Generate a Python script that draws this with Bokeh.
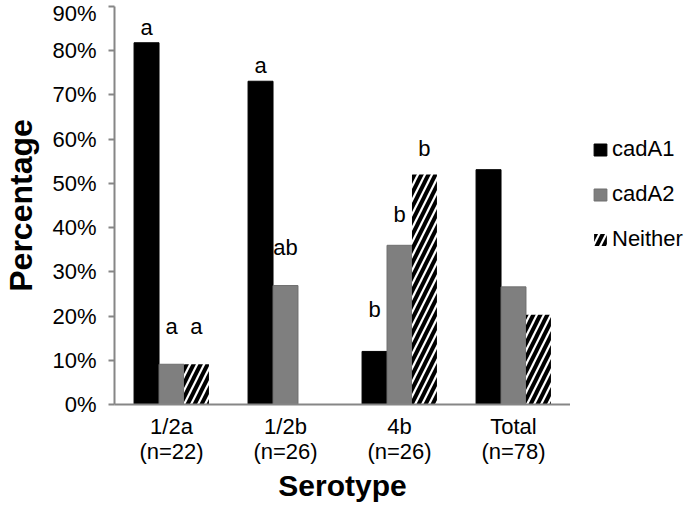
from bokeh.plotting import figure
from bokeh.layouts import row
from bokeh.models import ColumnDataSource, FactorRange, Range1d, Legend, LegendItem, PrintfTickFormatter, FixedTicker
from bokeh.transform import dodge
from bokeh.core.properties import value
from bokeh.embed import file_html
from bokeh.resources import INLINE

categories = ["1/2a\n(n=22)", "1/2b\n(n=26)", "4b\n(n=26)", "Total\n(n=78)"]
cadA1 = [81.8, 73.1, 12.0, 53.1]
cadA2 = [9.1, 26.9, 36.0, 26.6]
neither = [9.1, 0.0, 52.0, 20.3]
series_names = ["cadA1", "cadA2", "Neither"]

cadA1_letters = ["a", "a", "b", ""]
cadA2_letters = ["a", "ab", "b", ""]
neither_letters = ["a", "", "b", ""]
cadA1_letter_y = [85.2, 76.7, 21.5, 0]
cadA2_letter_y = [17.6, 35.5, 42.9, 0]
neither_letter_y = [17.6, 0, 57.8, 0]

y_ticks = [0, 10, 20, 30, 40, 50, 60, 70, 80, 90]

FONT = "Liberation Sans"
AXIS_GRAY = "#868686"
STYLES = [
    dict(fill_color="black", line_color="black"),
    dict(fill_color="#7f7f7f", line_color="#6f6f6f"),
    dict(fill_color="white", line_color=None, hatch_pattern="/", hatch_color="black",
         hatch_weight=4, hatch_scale=14),
]

src = ColumnDataSource(dict(
    cat=categories, cadA1=cadA1, cadA2=cadA2, neither=neither,
    l1=cadA1_letters, l2=cadA2_letters, l3=neither_letters,
    y1=cadA1_letter_y, y2=cadA2_letter_y, y3=neither_letter_y,
))

p = figure(width=570, height=504, x_range=FactorRange(*categories, range_padding=0),
           y_range=Range1d(0, 90), output_backend="svg", toolbar_location=None,
           min_border_left=113, min_border_right=0, min_border_top=6, min_border_bottom=100)

bw = 0.219
for off, col, st in [(-bw, "cadA1", STYLES[0]), (0, "cadA2", STYLES[1]), (bw, "neither", STYLES[2])]:
    p.vbar(x=dodge("cat", off, range=p.x_range), top=col, width=bw, source=src, **st)

for off, col, ycol in [(-bw, "l1", "y1"), (0, "l2", "y2"), (bw, "l3", "y3")]:
    p.text(x=dodge("cat", off, range=p.x_range), y=ycol, text=col, source=src,
           text_align="center", text_baseline="middle", text_font=value(FONT),
           text_font_size="22px", text_color="black")

p.xgrid.visible = False
p.ygrid.visible = False
p.outline_line_color = None

p.yaxis.ticker = FixedTicker(ticks=y_ticks)
p.yaxis.formatter = PrintfTickFormatter(format="%d%%")
p.yaxis.axis_label = "Percentage"
p.xaxis.axis_label = "Serotype"
for ax in (p.xaxis, p.yaxis):
    ax.axis_line_color = AXIS_GRAY
    ax.axis_line_width = 2
    ax.major_label_text_font = FONT
    ax.major_label_text_font_size = "22px"
    ax.major_label_text_color = "black"
    ax.axis_label_text_font = FONT
    ax.axis_label_text_font_style = "bold"
    ax.axis_label_text_color = "black"
    ax.minor_tick_line_color = None
p.xaxis.axis_label_text_font_size = "30px"
p.yaxis.axis_label_text_font_size = "32px"
p.yaxis.major_tick_line_color = AXIS_GRAY
p.yaxis.major_tick_line_width = 2
p.yaxis.major_tick_in = 0
p.yaxis.major_tick_out = 6
p.yaxis.major_label_standoff = 12
p.yaxis.axis_label_standoff = 10
p.xaxis.major_tick_line_color = None
p.xaxis.major_label_standoff = 3
p.xaxis.major_label_text_line_height = 1.0
p.xaxis.axis_label_standoff = 2

# legend panel to the right of the plot frame
pl = figure(width=114, height=504, x_range=Range1d(0, 1), y_range=Range1d(0, 1),
            output_backend="svg", toolbar_location=None, min_border=0)
pl.axis.visible = False
pl.grid.visible = False
pl.outline_line_color = None
items = []
for name, st in zip(series_names, STYLES):
    r = pl.vbar(x=[5], top=[5], width=0.1, **st)
    items.append(LegendItem(label=name, renderers=[r]))
legend = Legend(items=items, location=(22, 152), padding=0, margin=0, spacing=19,
                glyph_width=16, glyph_height=15, label_standoff=4,
                label_text_font=FONT, label_text_font_size="22px", label_text_color="black",
                border_line_color=None, background_fill_alpha=0)
pl.add_layout(legend, "center")

layout = row(p, pl, spacing=0)
open("out.html", "w").write(file_html(layout, INLINE))
